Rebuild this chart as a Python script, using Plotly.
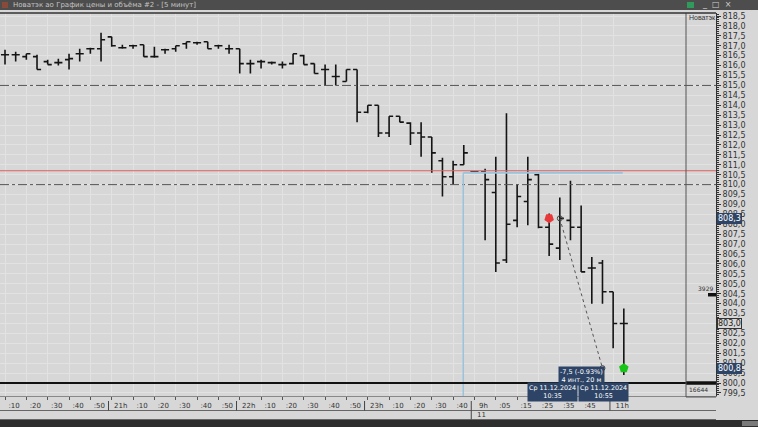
import plotly.graph_objects as go

# ---------------- data ----------------
bar_index = list(range(59))
opens = [816.55, 816.55, 816.45, 816.45, 816.20, 816.15, 816.30, 816.60, 816.85, 816.85,
         817.45, 816.90, 817.00, 817.05, 816.45, 816.80, 816.85, 817.10, 817.15, 817.20,
         817.00, 816.85, 816.85, 816.10, 816.20, 816.15, 816.05, 816.10, 816.50, 816.10,
         815.80, 815.45, 815.20, 815.80, 813.65, 814.00, 812.60, 813.45, 813.10, 812.60,
         812.40, 811.20, 810.40, 811.00, 810.65, 810.65, 809.60, 806.20, 808.20, 809.15,
         810.50, 807.85, 806.80, 808.20, 807.85, 805.80, 806.05, 804.60, 803.00]
highs = [816.80, 816.70, 816.60, 816.55, 816.30, 816.35, 816.60, 816.85, 816.90, 817.65,
         817.45, 817.05, 817.05, 817.05, 816.95, 816.85, 817.00, 817.20, 817.20, 817.20,
         817.05, 817.05, 816.85, 816.30, 816.30, 816.20, 816.20, 816.60, 816.55, 816.10,
         816.05, 816.05, 815.80, 815.80, 814.00, 814.00, 813.45, 813.45, 813.15, 813.15,
         812.40, 811.35, 811.20, 812.00, 810.65, 810.80, 811.40, 813.60, 810.00, 811.40,
         810.55, 808.55, 809.35, 810.20, 808.95, 806.35, 806.20, 804.60, 803.75]
lows = [816.05, 816.20, 816.30, 815.80, 816.05, 816.00, 815.80, 816.20, 816.60, 816.20,
        816.95, 816.85, 816.85, 816.45, 816.40, 816.60, 816.70, 816.85, 817.05, 816.85,
        816.85, 816.60, 815.60, 815.60, 815.85, 816.05, 815.85, 816.05, 816.05, 815.60,
        815.00, 815.00, 815.20, 813.15, 813.60, 812.40, 812.40, 813.15, 812.00, 811.40,
        810.60, 809.40, 810.00, 811.00, 810.65, 807.20, 805.60, 806.05, 807.85, 807.95,
        807.80, 806.40, 806.20, 807.20, 805.60, 804.00, 804.00, 801.75, 800.40]
closes = [816.55, 816.55, 816.60, 815.80, 816.05, 816.15, 816.35, 816.60, 816.85, 817.30,
          817.00, 816.90, 817.00, 816.45, 816.45, 816.80, 817.00, 817.20, 817.15, 816.85,
          817.00, 816.85, 816.10, 816.10, 816.20, 816.15, 816.05, 816.60, 816.05, 815.60,
          815.80, 815.45, 815.80, 813.65, 814.00, 812.60, 813.45, 813.15, 812.60, 812.40,
          811.60, 810.40, 811.00, 811.60, 810.65, 810.25, 806.05, 808.00, 809.40, 810.25,
          807.85, 807.00, 808.30, 807.85, 805.60, 805.80, 804.60, 803.00, 803.00]

tick_index = [0, 2, 4, 6, 8, 10, 12, 14, 16, 18, 20, 22, 24, 26, 28, 30, 32, 34,
              36, 38, 40, 42, 44, 46, 48, 50, 52, 54, 57]
tick_labels = [":10", ":20", ":30", ":40", ":50", "21h", ":10", ":20", ":30", ":40", ":50",
               "22h", ":10", ":20", ":30", ":40", ":50", "23h", ":10", ":20", ":30", ":40",
               "9h", ":05", ":15", ":25", ":35", ":45", "11h"]
hour_index = [10, 22, 34, 44, 57]
day_index = 44
day_label = "11"

price_ticks = [799.5 + 0.5 * i for i in range(39)]

level_lines = [815.0, 810.0]        # dash-dot levels
red_level = 810.7
blue_level = 810.6
blue_start, blue_end = 42.95, 57.9
volume_level = 800.0
volume_label = "16644"
volume2_level = 804.45
volume2_label = "3929"

sell_x, sell_y = [51], [808.3]
buy_x, buy_y = [58], [800.75]
measure_x = [52, 56]
measure_y = [808.3, 800.75]
measure_text = "-7,5 (-0.93%)<br>4 инт., 20 м"
date_start = "Ср 11.12.2024<br>10:35"
date_end = "Ср 11.12.2024<br>10:55"
last_price = 803.0
title_text = "Новатэк ао График цены и объёма #2 - [5 минут]"
instrument = "Новатэк"

# ---------------- layout constants ----------------
W, H = 758, 427
PL, PR, PT, PB = 0, 716, 13, 396          # plot area in pixels
PW, PH = PR - PL, PB - PT
Y0, Y1 = 799.345, 818.651


def px_x(px):
    return (px - PL) / PW


def px_y(py):
    return (PB - py) / PH


def fmt(v):
    return f"{v:.1f}".replace(".", ",")


BG = "#d7d7d7"
GRID = "#e2e2e2"
NAVY = "#2d4466"
FONT = "DejaVu Sans"

fig = go.Figure()

fig.add_trace(go.Ohlc(
    x=bar_index, open=opens, high=highs, low=lows, close=closes,
    increasing=dict(line=dict(color="#141414", width=1.6)),
    decreasing=dict(line=dict(color="#141414", width=1.6)),
    tickwidth=0.38, showlegend=False, hoverinfo="skip"))

# measurement dotted line
fig.add_trace(go.Scatter(
    x=measure_x, y=measure_y, mode="lines+markers",
    line=dict(color="#555555", width=1, dash="dot"),
    marker=dict(symbol="circle-open", size=5, color="#444444", line=dict(width=1)),
    showlegend=False, hoverinfo="skip"))

# sell / buy markers
fig.add_trace(go.Scatter(
    x=sell_x, y=sell_y, mode="markers",
    marker=dict(symbol="pentagon", angle=180, size=10, color="#e8383a"),
    showlegend=False, hoverinfo="skip"))
fig.add_trace(go.Scatter(
    x=buy_x, y=buy_y, mode="markers",
    marker=dict(symbol="pentagon", size=10, color="#18c418"),
    showlegend=False, hoverinfo="skip"))

shapes = []
for lv in level_lines:
    shapes.append(dict(type="line", xref="paper", yref="y", x0=0, x1=1, y0=lv, y1=lv,
                       line=dict(color="#555555", width=1, dash="dashdot")))
shapes.append(dict(type="line", xref="paper", yref="y", x0=0, x1=1, y0=red_level, y1=red_level,
                   line=dict(color="#e06060", width=1)))
shapes.append(dict(type="line", xref="x", yref="y", x0=blue_start, x1=blue_end,
                   y0=blue_level, y1=blue_level, line=dict(color="#9cc3dc", width=2)))
shapes.append(dict(type="line", xref="x", yref="y", x0=blue_start, x1=blue_start,
                   y0=Y0, y1=blue_level, line=dict(color="#9cc3dc", width=1.5)))
shapes.append(dict(type="line", xref="paper", yref="y", x0=0, x1=px_x(686), y0=volume_level,
                   y1=volume_level, line=dict(color="#111111", width=2)))
shapes.append(dict(type="line", xref="paper", yref="y", x0=px_x(686), x1=1, y0=volume_level,
                   y1=volume_level, line=dict(color="#111111", width=3.5)))
shapes.append(dict(type="line", xref="paper", yref="y", x0=px_x(708), x1=1, y0=volume2_level,
                   y1=volume2_level, line=dict(color="#111111", width=3.5)))
shapes.append(dict(type="line", xref="paper", yref="paper", x0=px_x(686), x1=px_x(686),
                   y0=px_y(397), y1=1, line=dict(color="#555555", width=1)))
shapes.append(dict(type="line", xref="paper", yref="paper", x0=px_x(686), x1=1,
                   y0=px_y(397), y1=px_y(397), line=dict(color="#555555", width=1)))
shapes.append(dict(type="line", xref="paper", yref="paper", x0=0, x1=1, y0=1, y1=1,
                   line=dict(color="#333333", width=1.5)))
# title bar
shapes.append(dict(type="rect", xref="paper", yref="paper", x0=0, x1=px_x(W),
                   y0=px_y(10), y1=px_y(0), fillcolor="#4d4d4d", line=dict(width=0), layer="above"))
shapes.append(dict(type="rect", xref="paper", yref="paper", x0=px_x(687), x1=px_x(694),
                   y0=px_y(8), y1=px_y(2), fillcolor="#2f9a5a", line=dict(width=0), layer="above"))
shapes.append(dict(type="rect", xref="paper", yref="paper", x0=px_x(2), x1=px_x(8),
                   y0=px_y(8), y1=px_y(2), fillcolor="#8a4a3a", line=dict(width=0), layer="above"))
# x-axis rows
for yy in (410.5, 419.5):
    shapes.append(dict(type="line", xref="paper", yref="paper", x0=0, x1=1, y0=px_y(yy),
                       y1=px_y(yy), line=dict(color="#666666", width=1)))
for hi in hour_index:
    bottom = 419.5 if hi == day_index else 410.5
    shapes.append(dict(type="line", xref="x", yref="paper", x0=hi - 0.3, x1=hi - 0.3,
                       y0=px_y(bottom), y1=px_y(401), line=dict(color="#444444", width=1)))
# bottom dark bar
shapes.append(dict(type="rect", xref="paper", yref="paper", x0=0, x1=px_x(W),
                   y0=px_y(H), y1=px_y(420), fillcolor="#2e2e2e", line=dict(width=0)))
shapes.append(dict(type="rect", xref="paper", yref="paper", x0=px_x(742), x1=px_x(W),
                   y0=px_y(426), y1=px_y(421), fillcolor="#7a7a7a", line=dict(width=0)))

annotations = []
annotations.append(dict(xref="paper", yref="paper", x=px_x(11), y=px_y(5), text=title_text,
                        showarrow=False, xanchor="left", yanchor="middle",
                        font=dict(family=FONT, size=7, color="#c4c4c4")))
annotations.append(dict(xref="paper", yref="paper", x=px_x(700), y=px_y(5), text="_  □  ×",
                        showarrow=False, xanchor="left", yanchor="middle",
                        font=dict(family=FONT, size=8, color="#cfcfcf")))
annotations.append(dict(xref="paper", yref="paper", x=px_x(686.5), y=px_y(17), text=instrument,
                        showarrow=False, xanchor="left", yanchor="middle",
                        font=dict(family="Liberation Sans", size=7, color="#333333")))
annotations.append(dict(xref="paper", yref="y", x=px_x(687), y=volume_level, text=volume_label,
                        showarrow=False, xanchor="left", yanchor="top", yshift=-1,
                        font=dict(family=FONT, size=6, color="#333333")))
annotations.append(dict(xref="paper", yref="y", x=px_x(715), y=volume2_level, text=volume2_label,
                        showarrow=False, xanchor="right", yanchor="bottom", yshift=1,
                        font=dict(family=FONT, size=6, color="#333333")))
annotations.append(dict(xref="x", yref="paper", x=54.0, y=px_y(375.5), text=measure_text,
                        showarrow=False, xanchor="center", yanchor="middle",
                        bgcolor=NAVY, borderpad=1,
                        font=dict(family=FONT, size=6.5, color="#ffffff")))
annotations.append(dict(xref="x", yref="paper", x=53.7, y=px_y(392), text=date_start,
                        showarrow=False, xanchor="right", yanchor="middle",
                        bgcolor=NAVY, borderpad=1,
                        font=dict(family=FONT, size=6.4, color="#ffffff")))
annotations.append(dict(xref="x", yref="paper", x=53.7, y=px_y(392), text=date_end,
                        showarrow=False, xanchor="left", yanchor="middle",
                        bgcolor=NAVY, borderpad=1,
                        font=dict(family=FONT, size=6.4, color="#ffffff")))
annotations.append(dict(xref="x", yref="paper", x=day_index, y=px_y(415), text=day_label,
                        showarrow=False, xanchor="left", yanchor="middle", xshift=1,
                        font=dict(family=FONT, size=7, color="#333333")))
for val, bg, fg, bc in ((measure_y[0], NAVY, "#ffffff", NAVY),
                        (measure_y[1], NAVY, "#ffffff", NAVY),
                        (last_price, BG, "#222222", "#333333")):
    annotations.append(dict(xref="paper", yref="y", x=1, y=val, text=fmt(val),
                            showarrow=False, xanchor="left", yanchor="middle", xshift=1,
                            bgcolor=bg, bordercolor=bc, borderwidth=1, borderpad=0,
                            font=dict(family=FONT, size=8, color=fg)))

# tick labels: the boxed last price replaces its own tick label
price_text = ["" if abs(v - last_price) < 1e-9 else fmt(v) for v in price_ticks]

fig.update_layout(
    width=W, height=H,
    margin=dict(l=PL, r=W - PR, t=PT, b=H - PB, pad=0),
    paper_bgcolor=BG, plot_bgcolor=BG,
    separators=", ",
    showlegend=False,
    shapes=shapes, annotations=annotations,
    xaxis=dict(range=[-0.47, 66.64], rangeslider=dict(visible=False),
               tickmode="array", tickvals=tick_index, ticktext=tick_labels,
               ticks="outside", ticklen=3, tickcolor="#555555", ticklabelshift=9,
               showgrid=True, gridcolor=GRID, gridwidth=1, zeroline=False,
               showline=True, linecolor="#888888", linewidth=1,
               tickfont=dict(family=FONT, size=7, color="#333333"), automargin=False),
    yaxis=dict(range=[Y0, Y1], side="right", tickmode="array",
               tickvals=price_ticks, ticktext=price_text,
               ticks="outside", ticklen=4, tickcolor="#333333",
               minor=dict(ticks="outside", ticklen=2, dtick=0.1, tickcolor="#333333", showgrid=False),
               showgrid=True, gridcolor=GRID, gridwidth=1, zeroline=False,
               showline=True, linecolor="#333333", linewidth=1,
               tickfont=dict(family=FONT, size=8, color="#333333"), automargin=False),
)

fig.write_html("out.html", config={"displayModeBar": False},
               post_script="document.body.style.margin='0';document.body.style.overflow='hidden';")
